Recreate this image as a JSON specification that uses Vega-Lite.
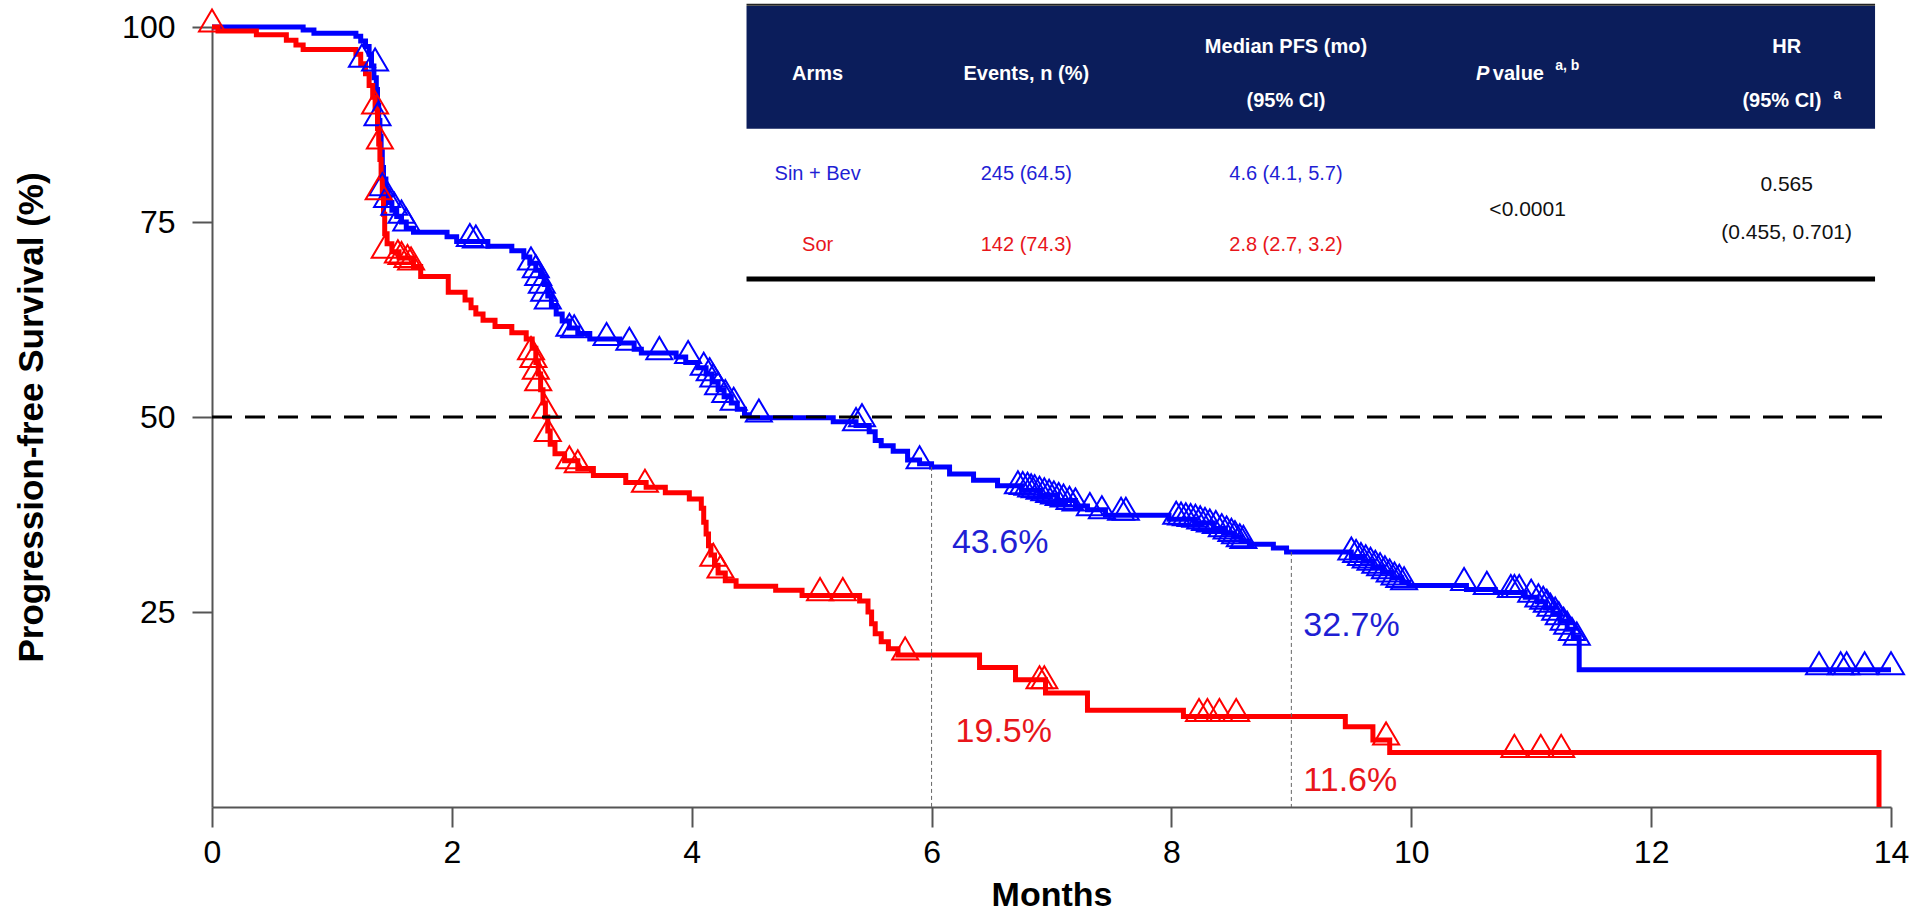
{
  "$schema": "https://vega.github.io/schema/vega-lite/v6.json",
  "width": 1679,
  "height": 780,
  "autosize": {"type": "none"},
  "padding": {"left": 212, "top": 27, "right": 35, "bottom": 104},
  "background": "white",
  "config": {"view": {"stroke": null}, "font": "Liberation Sans"},
  "datasets": {
    "km": [
      {"arm":"Sin + Bev","month":0,"pfs":100},{"arm":"Sin + Bev","month":0.76,"pfs":99.6},{"arm":"Sin + Bev","month":0.85,"pfs":99.2},{"arm":"Sin + Bev","month":1.2,"pfs":98.8},{"arm":"Sin + Bev","month":1.24,"pfs":98.2},{"arm":"Sin + Bev","month":1.28,"pfs":97.5},{"arm":"Sin + Bev","month":1.31,"pfs":96.5},{"arm":"Sin + Bev","month":1.33,"pfs":95.0},{"arm":"Sin + Bev","month":1.35,"pfs":93.5},{"arm":"Sin + Bev","month":1.37,"pfs":92.0},{"arm":"Sin + Bev","month":1.38,"pfs":90.0},{"arm":"Sin + Bev","month":1.39,"pfs":88.0},{"arm":"Sin + Bev","month":1.40,"pfs":86.0},{"arm":"Sin + Bev","month":1.41,"pfs":84.0},{"arm":"Sin + Bev","month":1.42,"pfs":82.0},{"arm":"Sin + Bev","month":1.43,"pfs":80.5},{"arm":"Sin + Bev","month":1.45,"pfs":79.0},{"arm":"Sin + Bev","month":1.47,"pfs":77.5},{"arm":"Sin + Bev","month":1.50,"pfs":76.5},{"arm":"Sin + Bev","month":1.54,"pfs":75.7},{"arm":"Sin + Bev","month":1.58,"pfs":75.0},{"arm":"Sin + Bev","month":1.62,"pfs":74.2},{"arm":"Sin + Bev","month":1.68,"pfs":73.7},{"arm":"Sin + Bev","month":1.96,"pfs":73.1},{"arm":"Sin + Bev","month":2.04,"pfs":72.5},{"arm":"Sin + Bev","month":2.3,"pfs":71.9},{"arm":"Sin + Bev","month":2.5,"pfs":71.3},{"arm":"Sin + Bev","month":2.6,"pfs":70.5},{"arm":"Sin + Bev","month":2.65,"pfs":69.7},{"arm":"Sin + Bev","month":2.7,"pfs":68.8},{"arm":"Sin + Bev","month":2.74,"pfs":68.0},{"arm":"Sin + Bev","month":2.77,"pfs":67.0},{"arm":"Sin + Bev","month":2.8,"pfs":65.5},{"arm":"Sin + Bev","month":2.83,"pfs":64.3},{"arm":"Sin + Bev","month":2.87,"pfs":63.2},{"arm":"Sin + Bev","month":2.92,"pfs":62.3},{"arm":"Sin + Bev","month":2.98,"pfs":61.4},{"arm":"Sin + Bev","month":3.05,"pfs":60.7},{"arm":"Sin + Bev","month":3.15,"pfs":60.0},{"arm":"Sin + Bev","month":3.4,"pfs":59.5},{"arm":"Sin + Bev","month":3.52,"pfs":58.7},{"arm":"Sin + Bev","month":3.58,"pfs":58.2},{"arm":"Sin + Bev","month":3.87,"pfs":57.7},{"arm":"Sin + Bev","month":3.95,"pfs":57.0},{"arm":"Sin + Bev","month":4.05,"pfs":56.3},{"arm":"Sin + Bev","month":4.12,"pfs":55.5},{"arm":"Sin + Bev","month":4.17,"pfs":54.5},{"arm":"Sin + Bev","month":4.22,"pfs":53.5},{"arm":"Sin + Bev","month":4.27,"pfs":52.6},{"arm":"Sin + Bev","month":4.33,"pfs":51.8},{"arm":"Sin + Bev","month":4.38,"pfs":51.0},{"arm":"Sin + Bev","month":4.44,"pfs":50.3},{"arm":"Sin + Bev","month":4.48,"pfs":49.9},{"arm":"Sin + Bev","month":5.18,"pfs":49.4},{"arm":"Sin + Bev","month":5.37,"pfs":48.9},{"arm":"Sin + Bev","month":5.48,"pfs":48.1},{"arm":"Sin + Bev","month":5.53,"pfs":47.0},{"arm":"Sin + Bev","month":5.58,"pfs":46.3},{"arm":"Sin + Bev","month":5.68,"pfs":45.6},{"arm":"Sin + Bev","month":5.8,"pfs":44.5},{"arm":"Sin + Bev","month":5.9,"pfs":44.0},{"arm":"Sin + Bev","month":6.0,"pfs":43.6},{"arm":"Sin + Bev","month":6.15,"pfs":42.7},{"arm":"Sin + Bev","month":6.35,"pfs":41.9},{"arm":"Sin + Bev","month":6.55,"pfs":41.2},{"arm":"Sin + Bev","month":6.75,"pfs":40.6},{"arm":"Sin + Bev","month":6.9,"pfs":40.0},{"arm":"Sin + Bev","month":7.05,"pfs":39.3},{"arm":"Sin + Bev","month":7.2,"pfs":38.6},{"arm":"Sin + Bev","month":7.3,"pfs":38.1},{"arm":"Sin + Bev","month":7.45,"pfs":37.4},{"arm":"Sin + Bev","month":7.98,"pfs":36.9},{"arm":"Sin + Bev","month":8.2,"pfs":36.4},{"arm":"Sin + Bev","month":8.35,"pfs":35.7},{"arm":"Sin + Bev","month":8.45,"pfs":35.1},{"arm":"Sin + Bev","month":8.52,"pfs":34.6},{"arm":"Sin + Bev","month":8.58,"pfs":34.1},{"arm":"Sin + Bev","month":8.65,"pfs":33.7},{"arm":"Sin + Bev","month":8.85,"pfs":33.2},{"arm":"Sin + Bev","month":8.96,"pfs":32.7},{"arm":"Sin + Bev","month":9.5,"pfs":32.1},{"arm":"Sin + Bev","month":9.6,"pfs":31.5},{"arm":"Sin + Bev","month":9.68,"pfs":30.8},{"arm":"Sin + Bev","month":9.76,"pfs":30.1},{"arm":"Sin + Bev","month":9.84,"pfs":29.4},{"arm":"Sin + Bev","month":9.92,"pfs":28.8},{"arm":"Sin + Bev","month":9.98,"pfs":28.4},{"arm":"Sin + Bev","month":10.46,"pfs":27.9},{"arm":"Sin + Bev","month":10.7,"pfs":27.5},{"arm":"Sin + Bev","month":10.95,"pfs":26.9},{"arm":"Sin + Bev","month":11.05,"pfs":26.3},{"arm":"Sin + Bev","month":11.12,"pfs":25.5},{"arm":"Sin + Bev","month":11.18,"pfs":24.7},{"arm":"Sin + Bev","month":11.24,"pfs":23.8},{"arm":"Sin + Bev","month":11.3,"pfs":22.8},{"arm":"Sin + Bev","month":11.35,"pfs":21.8},{"arm":"Sin + Bev","month":11.4,"pfs":17.6},{"arm":"Sin + Bev","month":14.0,"pfs":17.6},
      {"arm":"Sor","month":0,"pfs":100},{"arm":"Sor","month":0.05,"pfs":99.5},{"arm":"Sor","month":0.37,"pfs":99.0},{"arm":"Sor","month":0.62,"pfs":98.3},{"arm":"Sor","month":0.7,"pfs":97.7},{"arm":"Sor","month":0.76,"pfs":97.1},{"arm":"Sor","month":1.2,"pfs":96.5},{"arm":"Sor","month":1.24,"pfs":95.3},{"arm":"Sor","month":1.28,"pfs":94.0},{"arm":"Sor","month":1.31,"pfs":92.5},{"arm":"Sor","month":1.34,"pfs":91.0},{"arm":"Sor","month":1.36,"pfs":89.5},{"arm":"Sor","month":1.38,"pfs":87.0},{"arm":"Sor","month":1.39,"pfs":85.0},{"arm":"Sor","month":1.40,"pfs":83.0},{"arm":"Sor","month":1.41,"pfs":81.0},{"arm":"Sor","month":1.42,"pfs":78.5},{"arm":"Sor","month":1.43,"pfs":76.0},{"arm":"Sor","month":1.44,"pfs":73.5},{"arm":"Sor","month":1.46,"pfs":72.2},{"arm":"Sor","month":1.5,"pfs":71.2},{"arm":"Sor","month":1.56,"pfs":70.4},{"arm":"Sor","month":1.68,"pfs":69.3},{"arm":"Sor","month":1.74,"pfs":68.0},{"arm":"Sor","month":1.97,"pfs":66.0},{"arm":"Sor","month":2.11,"pfs":65.0},{"arm":"Sor","month":2.16,"pfs":64.0},{"arm":"Sor","month":2.2,"pfs":63.2},{"arm":"Sor","month":2.26,"pfs":62.4},{"arm":"Sor","month":2.36,"pfs":61.6},{"arm":"Sor","month":2.5,"pfs":60.8},{"arm":"Sor","month":2.62,"pfs":60.0},{"arm":"Sor","month":2.67,"pfs":58.8},{"arm":"Sor","month":2.7,"pfs":57.0},{"arm":"Sor","month":2.72,"pfs":55.5},{"arm":"Sor","month":2.74,"pfs":53.5},{"arm":"Sor","month":2.76,"pfs":51.8},{"arm":"Sor","month":2.78,"pfs":50.0},{"arm":"Sor","month":2.8,"pfs":48.2},{"arm":"Sor","month":2.82,"pfs":46.5},{"arm":"Sor","month":2.86,"pfs":45.3},{"arm":"Sor","month":2.94,"pfs":44.4},{"arm":"Sor","month":3.05,"pfs":43.4},{"arm":"Sor","month":3.18,"pfs":42.5},{"arm":"Sor","month":3.45,"pfs":41.6},{"arm":"Sor","month":3.62,"pfs":41.0},{"arm":"Sor","month":3.78,"pfs":40.3},{"arm":"Sor","month":3.98,"pfs":39.5},{"arm":"Sor","month":4.08,"pfs":38.3},{"arm":"Sor","month":4.1,"pfs":36.5},{"arm":"Sor","month":4.12,"pfs":35.0},{"arm":"Sor","month":4.14,"pfs":33.5},{"arm":"Sor","month":4.16,"pfs":32.3},{"arm":"Sor","month":4.19,"pfs":31.0},{"arm":"Sor","month":4.22,"pfs":30.0},{"arm":"Sor","month":4.28,"pfs":29.0},{"arm":"Sor","month":4.37,"pfs":28.3},{"arm":"Sor","month":4.7,"pfs":27.8},{"arm":"Sor","month":4.92,"pfs":27.1},{"arm":"Sor","month":5.4,"pfs":26.4},{"arm":"Sor","month":5.47,"pfs":25.0},{"arm":"Sor","month":5.5,"pfs":23.5},{"arm":"Sor","month":5.53,"pfs":22.2},{"arm":"Sor","month":5.58,"pfs":21.2},{"arm":"Sor","month":5.64,"pfs":20.3},{"arm":"Sor","month":5.72,"pfs":19.5},{"arm":"Sor","month":6.4,"pfs":17.9},{"arm":"Sor","month":6.7,"pfs":16.3},{"arm":"Sor","month":6.95,"pfs":14.6},{"arm":"Sor","month":7.3,"pfs":12.4},{"arm":"Sor","month":8.1,"pfs":11.6},{"arm":"Sor","month":9.45,"pfs":10.3},{"arm":"Sor","month":9.68,"pfs":8.6},{"arm":"Sor","month":9.82,"pfs":7.0},{"arm":"Sor","month":13.9,"pfs":0}
    ],
    "cens": [
      {"arm":"Sin + Bev","month":1.25,"pfs":95.5},{"arm":"Sin + Bev","month":1.36,"pfs":95.0},{"arm":"Sin + Bev","month":1.38,"pfs":88.0},{"arm":"Sin + Bev","month":1.42,"pfs":79.0},{"arm":"Sin + Bev","month":1.46,"pfs":77.5},{"arm":"Sin + Bev","month":1.52,"pfs":76.5},{"arm":"Sin + Bev","month":1.58,"pfs":75.5},{"arm":"Sin + Bev","month":1.62,"pfs":74.5},{"arm":"Sin + Bev","month":2.15,"pfs":72.5},{"arm":"Sin + Bev","month":2.2,"pfs":72.3},{"arm":"Sin + Bev","month":2.66,"pfs":69.5},{"arm":"Sin + Bev","month":2.7,"pfs":68.5},{"arm":"Sin + Bev","month":2.72,"pfs":67.5},{"arm":"Sin + Bev","month":2.75,"pfs":66.5},{"arm":"Sin + Bev","month":2.77,"pfs":65.5},{"arm":"Sin + Bev","month":2.8,"pfs":64.5},{"arm":"Sin + Bev","month":2.98,"pfs":61.0},{"arm":"Sin + Bev","month":3.02,"pfs":60.8},{"arm":"Sin + Bev","month":3.29,"pfs":59.8},{"arm":"Sin + Bev","month":3.48,"pfs":59.2},{"arm":"Sin + Bev","month":3.73,"pfs":58.0},{"arm":"Sin + Bev","month":3.97,"pfs":57.5},{"arm":"Sin + Bev","month":4.1,"pfs":56.0},{"arm":"Sin + Bev","month":4.15,"pfs":55.3},{"arm":"Sin + Bev","month":4.18,"pfs":54.5},{"arm":"Sin + Bev","month":4.22,"pfs":53.5},{"arm":"Sin + Bev","month":4.28,"pfs":52.5},{"arm":"Sin + Bev","month":4.35,"pfs":51.5},{"arm":"Sin + Bev","month":4.56,"pfs":50.0},{"arm":"Sin + Bev","month":5.37,"pfs":48.9},{"arm":"Sin + Bev","month":5.42,"pfs":49.4},{"arm":"Sin + Bev","month":5.9,"pfs":44.0},
      {"arm":"Sin + Bev","month":6.72,"pfs":40.8},{"arm":"Sin + Bev","month":6.76,"pfs":40.7},{"arm":"Sin + Bev","month":6.8,"pfs":40.6},{"arm":"Sin + Bev","month":6.83,"pfs":40.4},{"arm":"Sin + Bev","month":6.86,"pfs":40.3},{"arm":"Sin + Bev","month":6.9,"pfs":40.1},{"arm":"Sin + Bev","month":6.94,"pfs":39.9},{"arm":"Sin + Bev","month":6.98,"pfs":39.7},{"arm":"Sin + Bev","month":7.02,"pfs":39.5},{"arm":"Sin + Bev","month":7.06,"pfs":39.3},{"arm":"Sin + Bev","month":7.1,"pfs":39.1},{"arm":"Sin + Bev","month":7.15,"pfs":38.8},{"arm":"Sin + Bev","month":7.2,"pfs":38.6},{"arm":"Sin + Bev","month":7.32,"pfs":38.0},{"arm":"Sin + Bev","month":7.42,"pfs":37.6},{"arm":"Sin + Bev","month":7.58,"pfs":37.4},{"arm":"Sin + Bev","month":7.62,"pfs":37.4},
      {"arm":"Sin + Bev","month":8.04,"pfs":36.9},{"arm":"Sin + Bev","month":8.08,"pfs":36.8},{"arm":"Sin + Bev","month":8.12,"pfs":36.7},{"arm":"Sin + Bev","month":8.16,"pfs":36.6},{"arm":"Sin + Bev","month":8.2,"pfs":36.5},{"arm":"Sin + Bev","month":8.24,"pfs":36.3},{"arm":"Sin + Bev","month":8.28,"pfs":36.1},{"arm":"Sin + Bev","month":8.32,"pfs":35.9},{"arm":"Sin + Bev","month":8.37,"pfs":35.7},{"arm":"Sin + Bev","month":8.42,"pfs":35.3},{"arm":"Sin + Bev","month":8.46,"pfs":35.0},{"arm":"Sin + Bev","month":8.5,"pfs":34.7},{"arm":"Sin + Bev","month":8.53,"pfs":34.4},{"arm":"Sin + Bev","month":8.57,"pfs":34.0},{"arm":"Sin + Bev","month":8.6,"pfs":33.8},
      {"arm":"Sin + Bev","month":9.5,"pfs":32.3},{"arm":"Sin + Bev","month":9.54,"pfs":32.0},{"arm":"Sin + Bev","month":9.58,"pfs":31.6},{"arm":"Sin + Bev","month":9.62,"pfs":31.3},{"arm":"Sin + Bev","month":9.66,"pfs":31.0},{"arm":"Sin + Bev","month":9.7,"pfs":30.6},{"arm":"Sin + Bev","month":9.74,"pfs":30.3},{"arm":"Sin + Bev","month":9.78,"pfs":29.9},{"arm":"Sin + Bev","month":9.82,"pfs":29.5},{"arm":"Sin + Bev","month":9.86,"pfs":29.1},{"arm":"Sin + Bev","month":9.9,"pfs":28.8},{"arm":"Sin + Bev","month":9.94,"pfs":28.5},
      {"arm":"Sin + Bev","month":10.44,"pfs":28.4},{"arm":"Sin + Bev","month":10.63,"pfs":27.9},{"arm":"Sin + Bev","month":10.83,"pfs":27.5},{"arm":"Sin + Bev","month":10.86,"pfs":27.5},{"arm":"Sin + Bev","month":10.9,"pfs":27.5},{"arm":"Sin + Bev","month":11.0,"pfs":26.9},{"arm":"Sin + Bev","month":11.06,"pfs":26.3},{"arm":"Sin + Bev","month":11.1,"pfs":26.0},{"arm":"Sin + Bev","month":11.13,"pfs":25.6},{"arm":"Sin + Bev","month":11.16,"pfs":25.1},{"arm":"Sin + Bev","month":11.2,"pfs":24.6},{"arm":"Sin + Bev","month":11.23,"pfs":24.0},{"arm":"Sin + Bev","month":11.27,"pfs":23.3},{"arm":"Sin + Bev","month":11.3,"pfs":22.8},{"arm":"Sin + Bev","month":11.34,"pfs":22.0},{"arm":"Sin + Bev","month":11.38,"pfs":21.4},
      {"arm":"Sin + Bev","month":13.4,"pfs":17.6},{"arm":"Sin + Bev","month":13.58,"pfs":17.6},{"arm":"Sin + Bev","month":13.63,"pfs":17.6},{"arm":"Sin + Bev","month":13.78,"pfs":17.6},{"arm":"Sin + Bev","month":14.0,"pfs":17.6},
      {"arm":"Sor","month":0,"pfs":100},{"arm":"Sor","month":1.36,"pfs":89.5},{"arm":"Sor","month":1.40,"pfs":85.0},{"arm":"Sor","month":1.39,"pfs":78.5},{"arm":"Sor","month":1.44,"pfs":71.0},{"arm":"Sor","month":1.55,"pfs":70.4},{"arm":"Sor","month":1.58,"pfs":70.2},{"arm":"Sor","month":1.63,"pfs":69.8},{"arm":"Sor","month":1.66,"pfs":69.5},{"arm":"Sor","month":2.66,"pfs":58.0},{"arm":"Sor","month":2.68,"pfs":57.0},{"arm":"Sor","month":2.7,"pfs":55.5},{"arm":"Sor","month":2.72,"pfs":54.0},{"arm":"Sor","month":2.78,"pfs":50.5},{"arm":"Sor","month":2.8,"pfs":47.5},{"arm":"Sor","month":2.98,"pfs":44.0},{"arm":"Sor","month":3.05,"pfs":43.5},{"arm":"Sor","month":3.61,"pfs":41.0},{"arm":"Sor","month":4.18,"pfs":31.5},{"arm":"Sor","month":4.24,"pfs":30.0},{"arm":"Sor","month":5.07,"pfs":27.1},{"arm":"Sor","month":5.26,"pfs":27.1},{"arm":"Sor","month":5.78,"pfs":19.5},{"arm":"Sor","month":6.9,"pfs":15.8},{"arm":"Sor","month":6.94,"pfs":15.8},{"arm":"Sor","month":8.23,"pfs":11.6},{"arm":"Sor","month":8.3,"pfs":11.6},{"arm":"Sor","month":8.4,"pfs":11.6},{"arm":"Sor","month":8.54,"pfs":11.6},{"arm":"Sor","month":9.79,"pfs":8.6},{"arm":"Sor","month":10.86,"pfs":7.0},{"arm":"Sor","month":11.08,"pfs":7.0},{"arm":"Sor","month":11.25,"pfs":7.0}
    ]
  },
  "layer": [
    {
      "data": {"name": "km"},
      "mark": {"type": "line", "interpolate": "step-after", "strokeWidth": 5},
      "encoding": {
        "x": {"field": "month", "type": "quantitative", "title": "Months", "scale": {"domain": [0, 14], "nice": false, "zero": false},
          "axis": {"values": [0,2,4,6,8,10,12,14], "format": "d", "title": "Months", "grid": false, "domainColor": "#555", "domainWidth": 2, "tickColor": "#555", "tickWidth": 2, "tickSize": 20, "labelFontSize": 32, "labelColor": "#000", "labelPadding": 10, "labelFlush": false, "labelFont": "Liberation Sans", "titleFont": "Liberation Sans", "titleFontSize": 34, "titleFontWeight": "bold", "titleColor": "#000", "titlePadding": 10}},
        "y": {"field": "pfs", "type": "quantitative", "title": "Progression-free Survival (%)", "scale": {"domain": [0, 100], "nice": false},
          "axis": {"values": [25, 50, 75, 100], "title": "Progression-free Survival (%)", "grid": false, "domainColor": "#555", "domainWidth": 2, "tickColor": "#555", "tickWidth": 2, "tickSize": 20, "labelFontSize": 32, "labelColor": "#000", "labelPadding": 17, "labelFont": "Liberation Sans", "titleFont": "Liberation Sans", "titleFontSize": 35, "titleFontWeight": "bold", "titleColor": "#000", "titlePadding": 72}},
        "color": {"field": "arm", "type": "nominal", "scale": {"domain": ["Sin + Bev", "Sor"], "range": ["#0000ff", "#ff0000"]}, "legend": null},
        "order": {"field": "month", "type": "quantitative"}
      }
    },
    {
      "data": {"name": "cens"},
      "mark": {"type": "point", "shape": "M0,-1.35L-1,0.35L1,0.35Z", "filled": false, "size": 676, "strokeWidth": 2, "opacity": 1},
      "encoding": {
        "x": {"field": "month", "type": "quantitative", "title": "Months"},
        "y": {"field": "pfs", "type": "quantitative", "title": "Progression-free Survival (%)"},
        "color": {"field": "arm", "type": "nominal", "legend": null}
      }
    },
    {
      "data": {"values": [{"level": 50}]},
      "mark": {"type": "rule", "color": "#000", "strokeWidth": 3, "strokeDash": [20, 13]},
      "encoding": {"x": {"datum": 0, "type": "quantitative", "title": "Months"}, "x2": {"datum": 14}, "y": {"field": "level", "type": "quantitative", "title": "Progression-free Survival (%)"}}
    },
    {
      "data": {"values": [{"month": 6, "pfs": 43.6}, {"month": 9, "pfs": 32.7}]},
      "mark": {"type": "rule", "color": "#666", "strokeWidth": 1, "strokeDash": [4, 3]},
      "encoding": {"x": {"field": "month", "type": "quantitative", "title": "Months"}, "y": {"field": "pfs", "type": "quantitative", "title": "Progression-free Survival (%)"}, "y2": {"datum": 0}}
    },
    {
      "data": {"values": [{"part": "header"}]},
      "mark": {"type": "rect", "color": "#0b1d5b"},
      "encoding": {"x": {"datum": 4.457, "type": "quantitative", "title": "Months"}, "x2": {"datum": 13.867}, "y": {"datum": 102.7, "type": "quantitative", "title": "Progression-free Survival (%)"}, "y2": {"datum": 86.96}}
    },
    {
      "data": {"values": [{"part": "top"}]},
      "mark": {"type": "rule", "color": "#222", "strokeWidth": 2},
      "encoding": {"x": {"datum": 4.457, "type": "quantitative", "title": "Months"}, "x2": {"datum": 13.867}, "y": {"datum": 102.85, "type": "quantitative", "title": "Progression-free Survival (%)"}}
    },
    {
      "data": {"values": [{"part": "bottom"}]},
      "mark": {"type": "rule", "color": "#000", "strokeWidth": 5},
      "encoding": {"x": {"datum": 4.457, "type": "quantitative", "title": "Months"}, "x2": {"datum": 13.867}, "y": {"datum": 67.7, "type": "quantitative", "title": "Progression-free Survival (%)"}}
    },
    {"data": {"values": [{"label": "Arms"}]}, "mark": {"type": "text", "fontSize": 20, "fontWeight": "bold", "color": "#fff"}, "encoding": {"x": {"datum": 5.05, "type": "quantitative", "title": "Months"}, "y": {"datum": 94.0, "type": "quantitative", "title": "Progression-free Survival (%)"}, "text": {"field": "label", "type": "nominal"}}},
    {"data": {"values": [{"label": "Events, n (%)"}]}, "mark": {"type": "text", "fontSize": 20, "fontWeight": "bold", "color": "#fff"}, "encoding": {"x": {"datum": 6.79, "type": "quantitative", "title": "Months"}, "y": {"datum": 94.0, "type": "quantitative", "title": "Progression-free Survival (%)"}, "text": {"field": "label", "type": "nominal"}}},
    {"data": {"values": [{"label": "Median PFS (mo)"}]}, "mark": {"type": "text", "fontSize": 20, "fontWeight": "bold", "color": "#fff"}, "encoding": {"x": {"datum": 8.955, "type": "quantitative", "title": "Months"}, "y": {"datum": 97.4, "type": "quantitative", "title": "Progression-free Survival (%)"}, "text": {"field": "label", "type": "nominal"}}},
    {"data": {"values": [{"label": "(95% CI)"}]}, "mark": {"type": "text", "fontSize": 20, "fontWeight": "bold", "color": "#fff"}, "encoding": {"x": {"datum": 8.955, "type": "quantitative", "title": "Months"}, "y": {"datum": 90.5, "type": "quantitative", "title": "Progression-free Survival (%)"}, "text": {"field": "label", "type": "nominal"}}},
    {"data": {"values": [{"label": "P"}]}, "mark": {"type": "text", "fontSize": 20, "fontWeight": "bold", "fontStyle": "italic", "color": "#fff", "align": "left"}, "encoding": {"x": {"datum": 10.54, "type": "quantitative", "title": "Months"}, "y": {"datum": 94.0, "type": "quantitative", "title": "Progression-free Survival (%)"}, "text": {"field": "label", "type": "nominal"}}},
    {"data": {"values": [{"label": "value"}]}, "mark": {"type": "text", "fontSize": 20, "fontWeight": "bold", "color": "#fff", "align": "left"}, "encoding": {"x": {"datum": 10.68, "type": "quantitative", "title": "Months"}, "y": {"datum": 94.0, "type": "quantitative", "title": "Progression-free Survival (%)"}, "text": {"field": "label", "type": "nominal"}}},
    {"data": {"values": [{"label": "a, b"}]}, "mark": {"type": "text", "fontSize": 14, "fontWeight": "bold", "color": "#fff", "align": "left"}, "encoding": {"x": {"datum": 11.2, "type": "quantitative", "title": "Months"}, "y": {"datum": 95.0, "type": "quantitative", "title": "Progression-free Survival (%)"}, "text": {"field": "label", "type": "nominal"}}},
    {"data": {"values": [{"label": "HR"}]}, "mark": {"type": "text", "fontSize": 20, "fontWeight": "bold", "color": "#fff"}, "encoding": {"x": {"datum": 13.13, "type": "quantitative", "title": "Months"}, "y": {"datum": 97.4, "type": "quantitative", "title": "Progression-free Survival (%)"}, "text": {"field": "label", "type": "nominal"}}},
    {"data": {"values": [{"label": "(95% CI)"}]}, "mark": {"type": "text", "fontSize": 20, "fontWeight": "bold", "color": "#fff"}, "encoding": {"x": {"datum": 13.09, "type": "quantitative", "title": "Months"}, "y": {"datum": 90.5, "type": "quantitative", "title": "Progression-free Survival (%)"}, "text": {"field": "label", "type": "nominal"}}},
    {"data": {"values": [{"label": "a"}]}, "mark": {"type": "text", "fontSize": 14, "fontWeight": "bold", "color": "#fff", "align": "left"}, "encoding": {"x": {"datum": 13.52, "type": "quantitative", "title": "Months"}, "y": {"datum": 91.3, "type": "quantitative", "title": "Progression-free Survival (%)"}, "text": {"field": "label", "type": "nominal"}}},
    {"data": {"values": [{"label": "Sin + Bev"}]}, "mark": {"type": "text", "fontSize": 20, "color": "#1f1fd4"}, "encoding": {"x": {"datum": 5.05, "type": "quantitative", "title": "Months"}, "y": {"datum": 81.2, "type": "quantitative", "title": "Progression-free Survival (%)"}, "text": {"field": "label", "type": "nominal"}}},
    {"data": {"values": [{"label": "245 (64.5)"}]}, "mark": {"type": "text", "fontSize": 20, "color": "#1f1fd4"}, "encoding": {"x": {"datum": 6.79, "type": "quantitative", "title": "Months"}, "y": {"datum": 81.2, "type": "quantitative", "title": "Progression-free Survival (%)"}, "text": {"field": "label", "type": "nominal"}}},
    {"data": {"values": [{"label": "4.6 (4.1, 5.7)"}]}, "mark": {"type": "text", "fontSize": 20, "color": "#1f1fd4"}, "encoding": {"x": {"datum": 8.955, "type": "quantitative", "title": "Months"}, "y": {"datum": 81.2, "type": "quantitative", "title": "Progression-free Survival (%)"}, "text": {"field": "label", "type": "nominal"}}},
    {"data": {"values": [{"label": "Sor"}]}, "mark": {"type": "text", "fontSize": 20, "color": "#e8161b"}, "encoding": {"x": {"datum": 5.05, "type": "quantitative", "title": "Months"}, "y": {"datum": 72.0, "type": "quantitative", "title": "Progression-free Survival (%)"}, "text": {"field": "label", "type": "nominal"}}},
    {"data": {"values": [{"label": "142 (74.3)"}]}, "mark": {"type": "text", "fontSize": 20, "color": "#e8161b"}, "encoding": {"x": {"datum": 6.79, "type": "quantitative", "title": "Months"}, "y": {"datum": 72.0, "type": "quantitative", "title": "Progression-free Survival (%)"}, "text": {"field": "label", "type": "nominal"}}},
    {"data": {"values": [{"label": "2.8 (2.7, 3.2)"}]}, "mark": {"type": "text", "fontSize": 20, "color": "#e8161b"}, "encoding": {"x": {"datum": 8.955, "type": "quantitative", "title": "Months"}, "y": {"datum": 72.0, "type": "quantitative", "title": "Progression-free Survival (%)"}, "text": {"field": "label", "type": "nominal"}}},
    {"data": {"values": [{"label": "<0.0001"}]}, "mark": {"type": "text", "fontSize": 21, "color": "#111"}, "encoding": {"x": {"datum": 10.97, "type": "quantitative", "title": "Months"}, "y": {"datum": 76.5, "type": "quantitative", "title": "Progression-free Survival (%)"}, "text": {"field": "label", "type": "nominal"}}},
    {"data": {"values": [{"label": "0.565"}]}, "mark": {"type": "text", "fontSize": 21, "color": "#111"}, "encoding": {"x": {"datum": 13.13, "type": "quantitative", "title": "Months"}, "y": {"datum": 79.7, "type": "quantitative", "title": "Progression-free Survival (%)"}, "text": {"field": "label", "type": "nominal"}}},
    {"data": {"values": [{"label": "(0.455, 0.701)"}]}, "mark": {"type": "text", "fontSize": 21, "color": "#111"}, "encoding": {"x": {"datum": 13.13, "type": "quantitative", "title": "Months"}, "y": {"datum": 73.6, "type": "quantitative", "title": "Progression-free Survival (%)"}, "text": {"field": "label", "type": "nominal"}}},
    {"data": {"values": [{"label": "43.6%"}]}, "mark": {"type": "text", "fontSize": 34, "color": "#1f1fd4", "align": "left"}, "encoding": {"x": {"datum": 6.17, "type": "quantitative", "title": "Months"}, "y": {"datum": 33.9, "type": "quantitative", "title": "Progression-free Survival (%)"}, "text": {"field": "label", "type": "nominal"}}},
    {"data": {"values": [{"label": "32.7%"}]}, "mark": {"type": "text", "fontSize": 34, "color": "#1f1fd4", "align": "left"}, "encoding": {"x": {"datum": 9.1, "type": "quantitative", "title": "Months"}, "y": {"datum": 23.2, "type": "quantitative", "title": "Progression-free Survival (%)"}, "text": {"field": "label", "type": "nominal"}}},
    {"data": {"values": [{"label": "19.5%"}]}, "mark": {"type": "text", "fontSize": 34, "color": "#e8161b", "align": "left"}, "encoding": {"x": {"datum": 6.2, "type": "quantitative", "title": "Months"}, "y": {"datum": 9.6, "type": "quantitative", "title": "Progression-free Survival (%)"}, "text": {"field": "label", "type": "nominal"}}},
    {"data": {"values": [{"label": "11.6%"}]}, "mark": {"type": "text", "fontSize": 34, "color": "#e8161b", "align": "left"}, "encoding": {"x": {"datum": 9.1, "type": "quantitative", "title": "Months"}, "y": {"datum": 3.3, "type": "quantitative", "title": "Progression-free Survival (%)"}, "text": {"field": "label", "type": "nominal"}}}
  ]
}
